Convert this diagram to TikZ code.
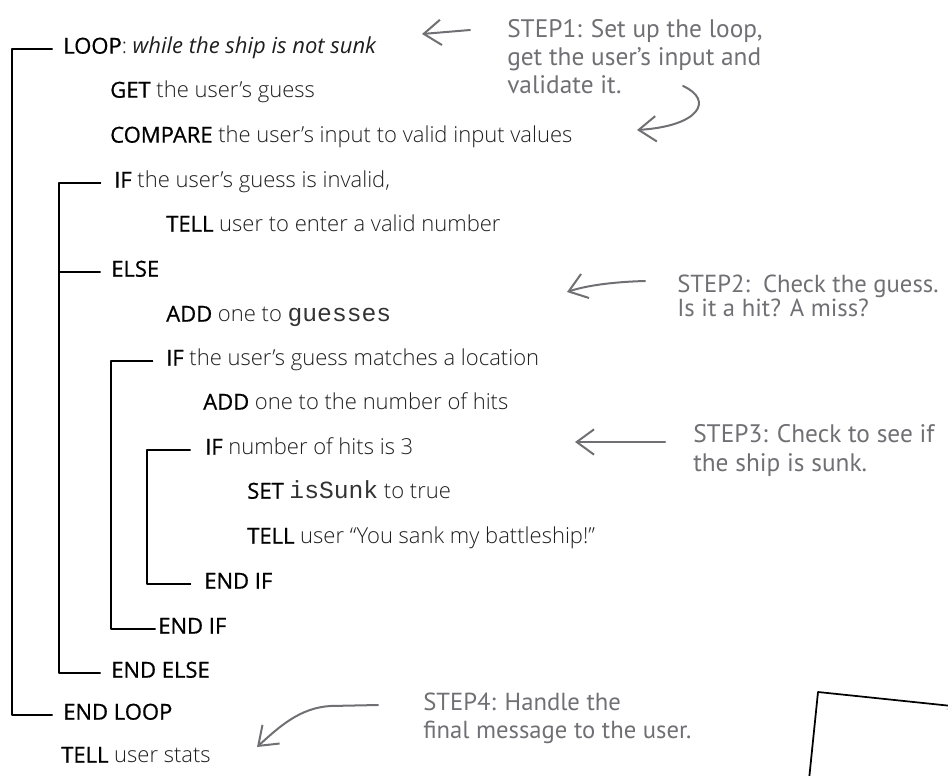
\documentclass[tikz,border=0pt]{standalone}
\usepackage{fontspec}
\setmainfont{Open Sans}
\newfontfamily\lightfont{Open Sans}[UprightFont=* Light, ItalicFont=* Light Italic]
\newfontfamily\keyfont{Open Sans}[FakeBold=0.7]
\newfontfamily\handfont{PT Sans}
\setmonofont{Liberation Mono}
\usetikzlibrary{arrows.meta}
\definecolor{pencil}{RGB}{112,112,116}
\definecolor{ink}{RGB}{30,30,30}
\newcommand{\kw}[1]{{\keyfont\color{black}#1}}
\newcommand{\ident}[1]{{\fontsize{18.5}{20}\ttfamily\color{black!80}#1}}

\begin{document}
\begin{tikzpicture}[x=0.75pt,y=-0.75pt,line cap=round,line join=round,>=Latex]
\tikzset{code/.style={anchor=west,inner sep=0pt,text height=0.7em,text depth=0pt,font=\fontsize{16.5}{18}\lightfont,text=ink},
  note/.style={anchor=north west,align=left,inner sep=0pt,font=\fontsize{19}{21}\handfont,text=pencil},
  bracket/.style={line width=0.8pt},
  pointer/.style={pencil,line width=1.5pt,-{Straight Barb[length=13pt,width=19pt]}}}
\useasboundingbox (0,0) rectangle (948,775);

% pseudo code
\node[code] (loop) at (63,49) {\kw{LOOP}: {\rmfamily\itshape while the ship is not sunk}};
\node[code] (get) at (110,93) {\kw{GET} the user’s guess};
\node[code] (compare) at (110,138) {\kw{COMPARE} the user’s input to valid input values};
\node[code] (ifbad) at (114,183) {\kw{IF} the user’s guess is invalid,};
\node[code] (tellbad) at (166,227) {\kw{TELL} user to enter a valid number};
\node[code] (else) at (111,272) {\kw{ELSE}};
\node[code] (addguess) at (166,317) {\kw{ADD} one to \ident{guesses}};
\node[code] (ifhit) at (166,361) {\kw{IF} the user’s guess matches a location};
\node[code] (addhit) at (203,405) {\kw{ADD} one to the number of hits};
\node[code] (ifsunk) at (205,450) {\kw{IF} number of hits is 3};
\node[code] (setsunk) at (247,494) {\kw{SET} \ident{isSunk} to true};
\node[code] (tellsunk) at (247,539) {\kw{TELL} user “You sank my battleship!”};
\node[code] (endifsunk) at (204,584) {\kw{END IF}};
\node[code] (endifhit) at (158,629) {\kw{END IF}};
\node[code] (endelse) at (111,673) {\kw{END ELSE}};
\node[code] (endloop) at (63,715) {\kw{END LOOP}};
\node[code] (tellstats) at (61,758) {\kw{TELL} user stats};

% brackets
\coordinate (s0) at (12,0);
\coordinate (s1) at (59,0);
\coordinate (s2) at (111,0);
\coordinate (s3) at (147,0);
\draw[bracket] ([xshift=-8pt]loop.west) -- (s0 |- loop.west) -- (s0 |- endloop.west) -- ([xshift=-8pt]endloop.west);
\draw[bracket] ([xshift=-10pt]ifbad.west) -- (s1 |- ifbad.west) -- (s1 |- endelse.west) -- ([xshift=-8pt]endelse.west);
\draw[bracket] (s1 |- else.west) -- ([xshift=-8pt]else.west);
\draw[bracket] ([xshift=-10pt]ifhit.west) -- (s2 |- ifhit.west) -- (s2 |- endifhit.west) -- ([xshift=-2pt]endifhit.west);
\draw[bracket] ([xshift=-11pt]ifsunk.west) -- (s3 |- ifsunk.west) -- (s3 |- endifsunk.west) -- ([xshift=-10pt]endifsunk.west);

% hand notes
\node[note] (stepone) at (507,19) {STEP1: Set up the loop,\\get the user’s input and\\validate it.};
\node[note,font=\fontsize{18.5}{18}\handfont] (steptwo) at (677,275) {STEP2:\ \ Check the guess.\\Is it a hit? A miss?};
\node[note,font=\fontsize{19}{22}\handfont] (stepthree) at (693,424) {STEP3: Check to see if\\the ship is sunk.};
\node[note,font=\fontsize{18.5}{21}\handfont] (stepfour) at (423,693) {STEP4: Handle the\\final message to the user.};

\coordinate (tipone) at (422,34);
\coordinate (tipcurl) at (637,130);
\coordinate (tiptwo) at (567,292);
\coordinate (tipthree) at (575,442);
\coordinate (tipfour) at (257,747);
\draw[pointer] (470,30) -- (tipone);
\draw[pointer] (683,86) .. controls (714,100) and (700,126) .. (tipcurl);
\draw[pointer] (645,281) .. controls (610,282) and (585,286) .. (tiptwo);
\draw[pointer] (665,442) -- (tipthree);
\draw[pointer] (378,705) -- (330,706) .. controls (300,708) and (280,726) .. (tipfour);

% corner of a card
\draw[black!18,line width=3pt] (952,708) -- (819,695) -- (810,780);
\draw[line width=1.3pt,fill=white] (952,706) -- (818,692) -- (809,780);
\end{tikzpicture}
\end{document}
